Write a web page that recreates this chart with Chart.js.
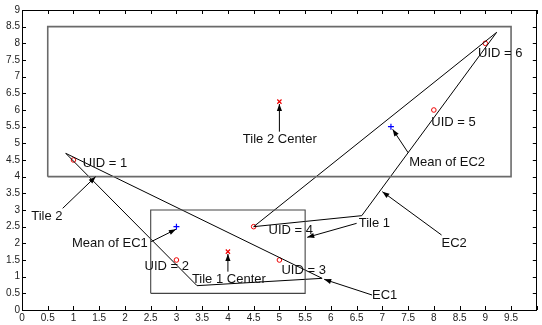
<!DOCTYPE html>
<html><head><meta charset="utf-8">
<script src="https://cdn.jsdelivr.net/npm/chart.js@4"></script>
<style>html,body{margin:0;padding:0;background:#fff}</style>
</head><body>
<canvas id="c" width="542" height="325"></canvas>
<script>
// ---- data ----
const xTicks = [0,0.5,1,1.5,2,2.5,3,3.5,4,4.5,5,5.5,6,6.5,7,7.5,8,8.5,9,9.5,10];
const yTicks = [0,0.5,1,1.5,2,2.5,3,3.5,4,4.5,5,5.5,6,6.5,7,7.5,8,8.5,9];
const uidX = [1, 3, 5, 4.5, 8, 9];
const uidY = [4.5, 1.5, 1.5, 2.5, 6, 8];
const meanX = [3, 7.1667];
const meanY = [2.5, 5.5];
const centerX = [4, 5];
const centerY = [1.75, 6.25];
const tile1X = [2.5, 5.5, 5.5, 2.5, 2.5];
const tile1Y = [0.5, 0.5, 3, 3, 0.5];
const tile2X = [0.5, 9.5, 9.5, 0.5, 0.5];
const tile2Y = [4, 4, 8.5, 8.5, 4];
const ec1X = [0.85, 3.4, 5.83, 0.85];
const ec1Y = [4.7, 0.73, 0.95, 4.7];
const ec2X = [4.5, 6.6, 9.22, 4.5];
const ec2Y = [2.5, 2.83, 8.33, 2.5];
const labelText = ['UID = 1','UID = 2','UID = 3','UID = 4','UID = 5','UID = 6',
  'Tile 1 Center','Tile 2 Center','Tile 1','Tile 2','EC1','EC2','Mean of EC1','Mean of EC2'];
const labelX = [1.18, 2.38, 5.04, 4.79, 7.95, 8.86, 3.3, 4.29, 6.54, 0.18, 6.8, 8.15, 0.97, 7.52];
const labelY = [4.4, 1.3, 1.2, 2.38, 5.63, 7.7, 0.92, 5.12, 2.6, 2.8, 0.43, 2.0, 2.0, 4.42];
const arrowFromX = [0.79, 2.51, 4.0, 5.0, 6.5, 6.8, 8.15, 7.5];
const arrowFromY = [3.05, 2.05, 1.15, 5.35, 2.6, 0.45, 2.25, 4.72];
const arrowToX   = [1.43, 2.99, 4.0, 5.0, 5.54, 5.87, 7.0, 7.2];
const arrowToY   = [4.0, 2.42, 1.68, 6.18, 2.18, 0.92, 3.55, 5.42];

const pts = (xs, ys) => xs.map((x, i) => ({x, y: ys[i]}));
const FONT = '"Liberation Sans", Arial, Helvetica, sans-serif';

const overlay = {
  id: 'overlay',
  afterDatasetsDraw(chart) {
    const {ctx, scales: {x, y}} = chart;
    ctx.save();
    ctx.strokeStyle = '#000'; ctx.fillStyle = '#000'; ctx.lineWidth = 1;
    for (let i = 0; i < arrowFromX.length; i++) {
      const x0 = x.getPixelForValue(arrowFromX[i]), y0 = y.getPixelForValue(arrowFromY[i]);
      const x1 = x.getPixelForValue(arrowToX[i]), y1 = y.getPixelForValue(arrowToY[i]);
      ctx.beginPath(); ctx.moveTo(x0, y0); ctx.lineTo(x1, y1); ctx.stroke();
      const ang = Math.atan2(y1 - y0, x1 - x0), L = 7, W = 2.6;
      const bx = x1 - L * Math.cos(ang), by = y1 - L * Math.sin(ang);
      ctx.beginPath();
      ctx.moveTo(x1, y1);
      ctx.lineTo(bx + W * Math.sin(ang), by - W * Math.cos(ang));
      ctx.lineTo(bx - W * Math.sin(ang), by + W * Math.cos(ang));
      ctx.closePath(); ctx.fill();
    }
    ctx.font = '13px ' + FONT; ctx.fillStyle = '#111';
    ctx.textAlign = 'left'; ctx.textBaseline = 'middle';
    for (let i = 0; i < labelText.length; i++) {
      ctx.fillText(labelText[i], x.getPixelForValue(labelX[i]), y.getPixelForValue(labelY[i]));
    }
    ctx.restore();
  },
  afterDraw(chart) {
    const {ctx, chartArea: a, scales: {x, y}} = chart;
    ctx.save();
    ctx.strokeStyle = '#000'; ctx.lineWidth = 1;
    ctx.strokeRect(Math.round(a.left) + 0.5, Math.round(a.top) + 0.5,
      Math.round(a.right - a.left) - 1, Math.round(a.bottom - a.top));
    const T = 4;
    ctx.beginPath();
    xTicks.forEach(v => {
      const px = Math.round(x.getPixelForValue(v)) + 0.5;
      ctx.moveTo(px, a.bottom); ctx.lineTo(px, a.bottom - T);
      ctx.moveTo(px, a.top); ctx.lineTo(px, a.top + T);
    });
    yTicks.forEach(v => {
      const py = Math.round(y.getPixelForValue(v)) + 0.5;
      ctx.moveTo(a.left, py); ctx.lineTo(a.left + T, py);
      ctx.moveTo(a.right, py); ctx.lineTo(a.right - T, py);
    });
    ctx.stroke();
    ctx.restore();
  }
};

new Chart(document.getElementById('c'), {
  type: 'scatter',
  data: {
    datasets: [
      {data: pts(tile2X, tile2Y), showLine: true, borderColor: '#6a6a6a', borderWidth: 1.6, pointRadius: 0, fill: false},
      {data: pts(tile1X, tile1Y), showLine: true, borderColor: '#444', borderWidth: 1.1, pointRadius: 0, fill: false},
      {data: pts(ec1X, ec1Y), showLine: true, borderColor: '#000', borderWidth: 1, pointRadius: 0, fill: false},
      {data: pts(ec2X, ec2Y), showLine: true, borderColor: '#000', borderWidth: 1, pointRadius: 0, fill: false},
      {data: pts(uidX, uidY), pointStyle: 'circle', pointRadius: 2.3, borderColor: '#e00', backgroundColor: 'rgba(0,0,0,0)', borderWidth: 1},
      {data: pts(meanX, meanY), pointStyle: 'cross', pointRadius: 3, borderColor: '#00f', borderWidth: 1.2},
      {data: pts(centerX, centerY), pointStyle: 'crossRot', pointRadius: 3, borderColor: '#e00', borderWidth: 1.2}
    ]
  },
  options: {
    responsive: false,
    animation: false,
    devicePixelRatio: 1,
    layout: {padding: {top: 10, right: 1, left: 0, bottom: 0}},
    plugins: {legend: {display: false}, tooltip: {enabled: false}},
    elements: {line: {tension: 0}},
    scales: {
      x: {
        type: 'linear', min: 0, max: 10,
        grid: {display: false, drawTicks: false, tickLength: 0}, border: {display: false},
        afterBuildTicks: s => { s.ticks = xTicks.map(v => ({value: v})); },
        afterFit: s => { s.height = 15; },
        ticks: {autoSkip: false, maxRotation: 0, padding: 2, color: '#222',
          font: {family: FONT, size: 10},
          callback: v => v === 10 ? '' : String(v)}
      },
      y: {
        type: 'linear', min: 0, max: 9,
        grid: {display: false, drawTicks: false, tickLength: 0}, border: {display: false},
        afterBuildTicks: s => { s.ticks = yTicks.map(v => ({value: v})); },
        afterFit: s => { s.width = 22; },
        ticks: {autoSkip: false, padding: 2, color: '#222',
          font: {family: FONT, size: 10},
          callback: v => String(v)}
      }
    }
  },
  plugins: [overlay]
});
</script>
</body></html>
